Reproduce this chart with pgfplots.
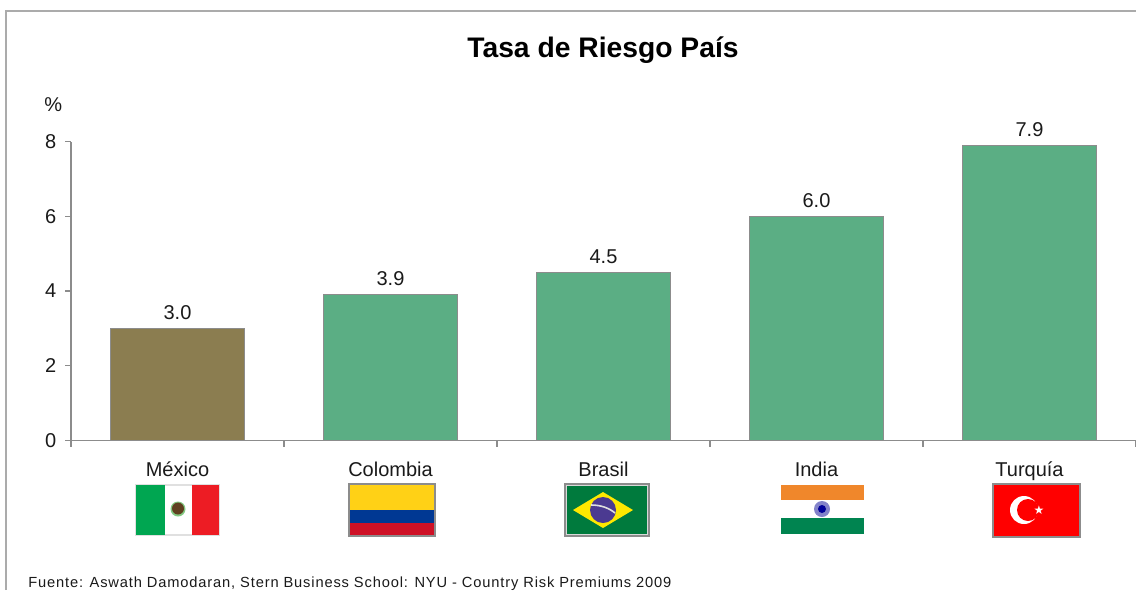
\documentclass[border=0pt]{standalone}
\usepackage{pgfplots}
\usepackage{fontspec}
\setmainfont{Liberation Sans}
\newfontfamily\symfont{DejaVu Sans}
\pgfplotsset{compat=1.18}
\definecolor{barra}{HTML}{5BAE84}
\definecolor{mex}{HTML}{8B7D50}
\definecolor{linea}{HTML}{8C8C8C}
\definecolor{marco}{HTML}{ABABAB}
\definecolor{texto}{HTML}{1A1A1A}
% flag colours
\definecolor{mxv}{HTML}{00A651}
\definecolor{mxr}{HTML}{ED1C24}
\definecolor{coa}{HTML}{FFD116}
\definecolor{coz}{HTML}{003893}
\definecolor{cor}{HTML}{CE1126}
\definecolor{brv}{HTML}{007A3D}
\definecolor{bry}{HTML}{FFE800}
\definecolor{brz}{HTML}{4B3A91}
\definecolor{ino}{HTML}{F0872B}
\definecolor{inv}{HTML}{008450}

\begin{document}
% picture coordinates are reference pixels, y downwards
\begin{tikzpicture}[x=0.75pt,y=-0.75pt]
\clip (0,0) rectangle (1136,590);
\fill[white] (0,0) rectangle (1136,590);
\draw[marco,line width=1.5pt] (6,590) -- (6,10.5) -- (1136,10.5);
\coordinate (origen) at (71,440.5);

\begin{axis}[
    at={(origen)}, anchor=south west,
    scale only axis, width=798.75pt, height=224.25pt,
    xmin=-0.5, xmax=4.5, ymin=0, ymax=8,
    ybar, bar width=100.5pt, bar shift=0pt,
    axis x line*=bottom, axis y line*=left,
    axis line style={linea,line width=0.9pt,-},
    xtick={0,1,2,3,4},
    xticklabels={México,Colombia,Brasil,India,Turquía},
    minor xtick={-0.5,0.5,1.5,2.5,3.5,4.5},
    ytick={0,2,4,6,8},
    tick style={linea,line width=0.9pt},
    major x tick style={draw=none},
    minor tick length=4.5pt, major tick length=4.5pt,
    tick align=outside,
    ticklabel style={font=\fontsize{15}{17}\selectfont,text=texto},
    /pgf/number format/assume math mode=true,
    xticklabel style={yshift=-8pt},
    yticklabel style={xshift=-3pt},
    nodes near coords,
    nodes near coords style={font=\fontsize{15}{17}\selectfont,text=texto,
        /pgf/number format/fixed,/pgf/number format/fixed zerofill,/pgf/number format/precision=1,yshift=3pt},
    clip=false,
]
\addplot[draw=linea,fill=mex,line width=0.75pt] coordinates {(0,3.0)};
\addplot[draw=linea,fill=barra,line width=0.75pt] coordinates {(1,3.9) (2,4.5) (3,6.0) (4,7.9)};
\end{axis}

\node[font=\fontsize{21.2}{23}\selectfont\bfseries,text=black] at (603,50) {Tasa de Riesgo País};
\node[font=\fontsize{15}{17}\selectfont,text=texto,anchor=west,inner sep=0pt] at (44,105) {\%};
\node[font=\fontsize{11}{12}\selectfont\addfontfeatures{LetterSpace=5.8},text=texto,anchor=west,inner sep=0pt] at (28,584) {Fuente: Aswath Damodaran, Stern Business School: NYU - Country Risk Premiums 2009};

% flags
% Mexico
\fill[white] (136,485) rectangle (219,535);
\draw[black!12,line width=0.8pt] (136,485) rectangle (219,535);
\fill[mxv] (136,485) rectangle (165,535);
\fill[mxr] (192,485) rectangle (219,535);
\fill[green!40!gray!70] (178,509) circle (7.5);
\fill[black!50!brown] (178,508.5) circle (6);
% Colombia
\fill[coa] (349,484) rectangle (435,510);
\fill[coz] (349,510) rectangle (435,523);
\fill[cor] (349,523) rectangle (435,536);
\draw[linea,line width=0.8pt] (349,484) rectangle (435,536);
% Brasil
\fill[brv] (565,484) rectangle (649,536);
\draw[linea,line width=1.2pt] (565,484) rectangle (649,536);
\draw[black!15,line width=0.6pt] (566.5,485.5) rectangle (647.5,534.5);
\fill[bry] (573,510) -- (603,492) -- (633,510) -- (603,528) -- cycle;
\fill[brz] (603,510) circle (13);
\draw[white!75!gray,line width=1.2pt] (591,505) .. controls (601,505) and (609,508) .. (615,513);
% India
\fill[ino] (781,485) rectangle (864,500);
\fill[white] (781,500) rectangle (864,518);
\fill[inv] (781,518) rectangle (864,534);
\fill[blue!40!gray!70] (822,509) circle (8);
\fill[blue!60!black] (822,509) circle (4);
% Turquia
\fill[red] (993,484) rectangle (1080,537);
\draw[linea,line width=0.8pt] (993,484) rectangle (1080,537);
\fill[white] (1024,510) circle (14);
\fill[red] (1028,510) circle (11);
\node[text=white,font=\symfont\fontsize{9}{9}\selectfont,inner sep=0pt] at (1039,510) {★};
\end{tikzpicture}
\end{document}
